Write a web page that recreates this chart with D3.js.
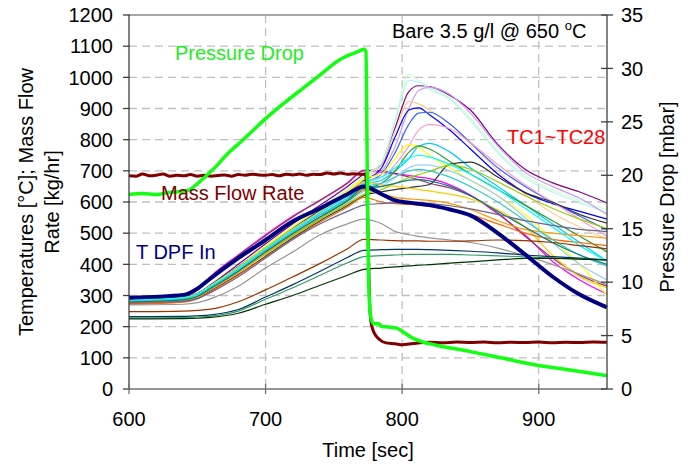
<!DOCTYPE html>
<html><head><meta charset="utf-8">
<script src="https://cdn.jsdelivr.net/npm/d3@7"></script>
<style>body{margin:0;background:#fff} svg{display:block} text{font-family:Arial,"Liberation Sans",sans-serif}</style>
</head><body><svg id="c" width="688" height="464"></svg>
<script>
// ---------- data ----------
const xTicks = [600, 700, 800, 900];
const yLeftTicks = [0,100,200,300,400,500,600,700,800,900,1000,1100,1200];
const yRightTicks = [0,5,10,15,20,25,30,35];

const pdTime  = [600,610,620,630,640,645,650,657,665,672,679,690,700,715,728,740,754,762,769,772,773.5,774.5,775.5,777,779,783,785,790,796,800,808,815,825,850,874,898,923,950];
const pdValue = [18.2,18.3,18.2,18.4,18.5,18.7,19.2,20.0,21.0,22.0,22.8,24.1,25.3,26.9,28.2,29.4,30.8,31.3,31.65,31.8,31.6,20,10,6.8,6.1,6.1,5.85,5.8,5.7,5.4,4.74,4.4,4.1,3.5,2.87,2.25,1.78,1.25];

const mfTime  = [600,605,610,615,620,625,630,635,640,645,650,655,660,665,670,675,680,685,690,695,700,705,710,715,720,725,730,735,740,745,750,755,760,765,770,773,774,775,776,777,779,781,784,788,795,800,808,820,830,840,850,860,870,880,890,900,910,920,930,940,950];
const mfValue = [684,683,690,684,686,690,683,686,684,688,683,686,683,685,687,683,688,686,689,687,686,688,684,689,687,690,686,689,688,693,690,693,689,691,688,690,660,500,300,220,185,170,157,148,145,142,146,150,148,151,149,151,148,150,149,151,148,150,149,151,150];

const tcTime = [600,640,650,660,680,700,720,740,760,772,785,795,805,812,820,835,850,870,890,910,930,950];
const tdpfValue = [293,302,322,356,420,478,538,580,625,650,625,605,598,594,590,576,557,500,432,361,303,262];

const tcNames = ["TC1","TC2","TC3","TC4","TC5","TC6","TC7","TC8","TC9","TC10","TC11","TC12","TC13","TC14","TC15","TC16","TC17","TC18","TC19","TC20","TC21","TC22","TC23","TC24","TC25","TC26","TC27","TC28"];
const tcValues = [
 [285,298,318,362,430,495,555,605,660,700, 695,690,685,680,675,655,622,562,494,410,350,305],
 [284,297,317,360,428,492,552,606,662,702, 700,692,680,672,660,645,620,565,490,420,365,330],
 [282,290,304,335,400,466,530,590,650,690, 720,840,955,973,970,942,895,785,705,662,632,597],
 [278,286,299,328,392,458,522,582,642,685, 730,870,1010,990,968,935,870,765,685,640,605,575],
 [280,288,301,330,392,458,522,582,640,682, 725,860,990,985,962,930,862,758,678,632,598,565],
 [276,284,296,324,385,449,511,570,628,670, 700,780,900,958,968,945,885,780,695,650,612,560],
 [282,290,302,330,390,455,518,577,635,676, 720,830,922,915,895,850,790,700,625,565,520,480],
 [288,295,307,333,392,455,516,573,628,668, 710,810,895,902,880,830,770,690,630,595,570,545],
 [286,293,304,330,387,450,510,566,620,660, 690,760,850,885,888,850,790,710,650,600,555,510],
 [280,288,300,326,384,449,510,568,623,665, 680,720,780,830,848,835,790,720,655,600,545,490],
 [283,290,302,328,383,445,504,560,613,655, 670,700,740,778,788,760,710,650,590,530,470,410],
 [285,293,305,333,391,457,520,579,635,675, 690,740,785,775,750,710,670,620,560,480,400,300],
 [280,287,298,323,377,438,496,550,602,640, 660,700,760,780,770,730,690,640,590,540,490,440],
 [278,285,296,320,374,435,492,545,597,635, 650,680,710,719,718,700,670,620,550,470,400,350],
 [274,281,291,315,367,426,485,540,589,620, 633,640,646,650,656,722,728,680,630,600,560,532],
 [282,289,299,323,375,433,491,545,594,625, 640,660,678,688,698,718,705,665,620,580,545,515],
 [287,294,306,332,389,453,514,570,625,665, 655,650,645,640,635,625,610,575,520,430,360,325],
 [276,283,294,320,374,436,496,552,605,640, 625,615,610,608,605,595,576,540,512,500,492,484],
 [272,279,289,313,365,423,481,536,584,615, 600,595,592,590,586,575,560,530,500,480,470,460],
 [283,290,301,327,382,444,503,558,610,650, 660,680,700,705,700,680,650,600,540,480,430,395],
 [279,286,297,323,378,440,499,553,605,645, 650,660,670,672,668,650,620,570,520,470,430,400],
 [286,293,305,331,387,450,510,566,620,660, 680,710,740,750,745,720,690,640,580,520,460,410],
 [278,281,290,310,360,420,480,530,570,590, 595,597,598,597,595,588,578,560,540,525,512,505],
 [270,272,277,290,330,388,440,495,530,545, 530,505,495,490,485,478,470,452,428,400,368,335],
 [248,250,252,256,280,318,360,403,450,480, 478,476,475,475,474,474,475,478,476,470,460,450],
 [232,233,235,238,255,295,335,378,422,445, 447,448,448,448,447,445,442,437,430,425,420,414],
 [228,229,231,234,250,288,325,365,405,425, 428,430,432,432,432,432,430,427,424,420,417,414],
 [225,226,227,230,243,272,300,333,365,384, 388,392,395,397,399,404,408,414,419,419,417,414]
];
const tcColors = ["#ff00ff","#993366","#800080","#ccffcc","#b8f4f4","#cc99ff","#ffcc99","#0000ff","#3366ff","#ff99cc","#00ccff","#ffff00","#339933","#99ccff","#333333","#99cc00","#ffcc00","#ff9900","#ff6600","#33cccc","#008080","#00ffff","#666699","#969696","#993300","#003366","#339966","#003300"];

// ---------- layout ----------
const svg = d3.select("#c");
const L = 129, R = 607, T = 15, B = 389;
const x = d3.scaleLinear().domain([600, 950]).range([L, R]);
const yL = d3.scaleLinear().domain([0, 1200]).range([B, T]);
const yR = d3.scaleLinear().domain([0, 35]).range([B, T]);

// gridlines
const g = svg.append("g");
g.selectAll(".hg").data(yLeftTicks.filter(d => d > 0 && d < 1200)).enter().append("line")
  .attr("x1", L).attr("x2", R).attr("y1", d => yL(d)).attr("y2", d => yL(d))
  .attr("stroke", "#c0c0c0").attr("stroke-width", 1.3).attr("stroke-dasharray", "8,5");
g.selectAll(".vg").data(xTicks.filter(d => d > 600)).enter().append("line")
  .attr("x1", d => x(d)).attr("x2", d => x(d)).attr("y1", T).attr("y2", B)
  .attr("stroke", "#c0c0c0").attr("stroke-width", 1.3).attr("stroke-dasharray", "8,5");

// frame
svg.append("line").attr("x1", L).attr("x2", R).attr("y1", T).attr("y2", T).attr("stroke", "#8a8a8a").attr("stroke-width", 1.3);

// TC lines
const lineT = d3.line().x((d, i) => x(tcTime[i])).y(d => yL(d)).curve(d3.curveMonotoneX);
const tcG = svg.append("g");
tcValues.forEach((vals, k) => {
  tcG.append("path").attr("d", lineT(vals)).attr("fill", "none")
    .attr("stroke", tcColors[k]).attr("stroke-width", 1.2);
});
// T DPF In
svg.append("path").attr("d", lineT(tdpfValue)).attr("fill", "none")
  .attr("stroke", "#000080").attr("stroke-width", 4);

// mass flow
const lineMF = d3.line().x((d, i) => x(mfTime[i])).y(d => yL(d)).curve(d3.curveMonotoneX);
svg.append("path").attr("d", lineMF(mfValue)).attr("fill", "none")
  .attr("stroke", "#800000").attr("stroke-width", 3);

// pressure drop
const linePD = d3.line().x((d, i) => x(pdTime[i])).y(d => yR(d)).curve(d3.curveMonotoneX);
svg.append("path").attr("d", linePD(pdValue)).attr("fill", "none")
  .attr("stroke", "#11ff11").attr("stroke-width", 3.5);

// axes lines
svg.append("line").attr("x1", L).attr("x2", L).attr("y1", T).attr("y2", B).attr("stroke", "#404040").attr("stroke-width", 1.3);
svg.append("line").attr("x1", R).attr("x2", R).attr("y1", T).attr("y2", B).attr("stroke", "#404040").attr("stroke-width", 1.3);
svg.append("line").attr("x1", L).attr("x2", R).attr("y1", B).attr("y2", B).attr("stroke", "#707070").attr("stroke-width", 1.5);

// ticks + labels
const fs = 20;
const ax = svg.append("g").attr("font-size", fs).attr("fill", "#000");
yLeftTicks.forEach(d => {
  ax.append("line").attr("x1", L - 6).attr("x2", L + 1).attr("y1", yL(d)).attr("y2", yL(d)).attr("stroke", "#404040").attr("stroke-width", 1.3);
  ax.append("text").attr("x", 113).attr("y", yL(d)).attr("dy", "0.36em").attr("text-anchor", "end").text(d);
});
yRightTicks.forEach(d => {
  ax.append("line").attr("x1", R - 6).attr("x2", R + 6).attr("y1", yR(d)).attr("y2", yR(d)).attr("stroke", "#404040").attr("stroke-width", 1.3);
  ax.append("text").attr("x", 621).attr("y", yR(d)).attr("dy", "0.36em").attr("text-anchor", "start").text(d);
});
xTicks.forEach(d => {
  ax.append("line").attr("x1", x(d)).attr("x2", x(d)).attr("y1", B - 5).attr("y2", B + 5).attr("stroke", "#707070").attr("stroke-width", 1.3);
  ax.append("text").attr("x", x(d)).attr("y", 426).attr("text-anchor", "middle").text(d);
});

// axis titles
ax.append("text").attr("x", 368).attr("y", 457).attr("text-anchor", "middle").text("Time [sec]");
ax.append("text").attr("transform", "translate(33,202) rotate(-90)").attr("text-anchor", "middle").text("Temperatures [°C]; Mass Flow");
ax.append("text").attr("transform", "translate(59,202) rotate(-90)").attr("text-anchor", "middle").text("Rate [kg/hr]");
ax.append("text").attr("transform", "translate(674,197) rotate(-90)").attr("text-anchor", "middle").text("Pressure Drop [mbar]");

// annotations
const an = svg.append("g").attr("font-size", fs);
an.append("text").attr("x", 175).attr("y", 60).attr("fill", "#22ee22").text("Pressure Drop");
an.append("text").attr("x", 161).attr("y", 200).attr("fill", "#800000").text("Mass Flow Rate");
an.append("text").attr("x", 136).attr("y", 259).attr("fill", "#000080").text("T DPF In");
an.append("text").attr("x", 507).attr("y", 144).attr("fill", "#ff0000").text("TC1~TC28");
const bt = an.append("text").attr("x", 392).attr("y", 38).attr("fill", "#000");
bt.append("tspan").text("Bare 3.5 g/l @ 650 ");
bt.append("tspan").attr("font-size", 13).attr("dy", -8).text("o");
bt.append("tspan").attr("dy", 8).text("C");
</script></body></html>
